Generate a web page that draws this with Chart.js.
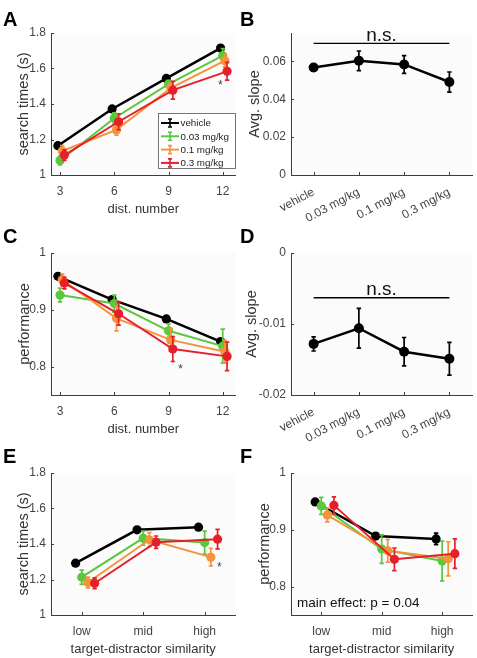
<!DOCTYPE html>
<html><head><meta charset="utf-8">
<script src="https://cdn.jsdelivr.net/npm/chart.js@4.4.0/dist/chart.umd.min.js"></script>
<style>
html,body{margin:0;padding:0;background:#fff;overflow:hidden;width:477px;height:658px;}
.p{position:absolute;}
canvas{display:block;}
</style></head><body>
<div class="p" style="left:0;top:0"><canvas id="cA" width="240" height="220"></canvas></div>
<div class="p" style="left:240px;top:0"><canvas id="cB" width="237" height="228"></canvas></div>
<div class="p" style="left:0;top:220px"><canvas id="cC" width="240" height="220"></canvas></div>
<div class="p" style="left:240px;top:220px"><canvas id="cD" width="237" height="228"></canvas></div>
<div class="p" style="left:0;top:440px"><canvas id="cE" width="240" height="218"></canvas></div>
<div class="p" style="left:240px;top:440px"><canvas id="cF" width="237" height="218"></canvas></div>
<script>
// ---------- data ----------
const distNumbers = [3, 6, 9, 12];
const doseLabels = ['vehicle', '0.03 mg/kg', '0.1 mg/kg', '0.3 mg/kg'];
const similarityLabels = ['low', 'mid', 'high'];

// A: search times vs distractor number
const rtVehicle = [1.165, 1.372, 1.544, 1.715];
const rt003 = [1.082, 1.320, 1.512, 1.672];
const rt01 = [1.135, 1.254, 1.490, 1.644];
const rt03 = [1.112, 1.300, 1.478, 1.584];
const rtVehicleErr = [0.010, 0.010, 0.010, 0.015];
const rt003Err = [0.025, 0.030, 0.020, 0.040];
const rt01Err = [0.030, 0.030, 0.030, 0.035];
const rt03Err = [0.030, 0.045, 0.050, 0.050];

// B: average slope of search times
const slopeRT = [0.0568, 0.0603, 0.0584, 0.0491];
const slopeRTErr = [0.0018, 0.0052, 0.0047, 0.0053];

// C: performance vs distractor number
const perfVehicle = [0.959, 0.918, 0.884, 0.844];
const perf003 = [0.926, 0.911, 0.863, 0.836];
const perf01 = [0.953, 0.885, 0.847, 0.826];
const perf03 = [0.947, 0.893, 0.831, 0.818];
const perfVehicleErr = [0.003, 0.004, 0.005, 0.005];
const perf003Err = [0.012, 0.015, 0.012, 0.030];
const perf01Err = [0.010, 0.022, 0.020, 0.020];
const perf03Err = [0.010, 0.020, 0.022, 0.025];

// D: average slope of performance
const slopePerf = [-0.0128, -0.0106, -0.0139, -0.0149];
const slopePerfErr = [0.0010, 0.0028, 0.0020, 0.0023];

// E: search times vs target-distractor similarity
const simRTVehicle = [1.292, 1.480, 1.495];
const simRT003 = [1.213, 1.433, 1.408];
const simRT01 = [1.183, 1.424, 1.326];
const simRT03 = [1.179, 1.410, 1.427];
const simRTVehicleErr = [0.010, 0.010, 0.012];
const simRT003Err = [0.040, 0.040, 0.065];
const simRT01Err = [0.030, 0.040, 0.050];
const simRT03Err = [0.030, 0.035, 0.055];

// F: performance vs target-distractor similarity
const simPerfVehicle = [0.949, 0.889, 0.884];
const simPerf003 = [0.942, 0.866, 0.845];
const simPerf01 = [0.926, 0.863, 0.849];
const simPerf03 = [0.943, 0.848, 0.858];
const simPerfVehicleErr = [0.004, 0.005, 0.010];
const simPerf003Err = [0.015, 0.025, 0.035];
const simPerf01Err = [0.012, 0.020, 0.030];
const simPerf03Err = [0.015, 0.020, 0.026];

// tick values
const rtTicks = [1, 1.2, 1.4, 1.6, 1.8];
const perfTicks = [0.8, 0.9, 1];
const slopeRTTicks = [0, 0.02, 0.04, 0.06];
const slopePerfTicks = [-0.02, -0.01, 0];

// ---------- style ----------
const FONT = "'Liberation Sans', Arial, Helvetica, sans-serif";
const COLORS = ['#000000', '#5ac83c', '#f6923c', '#e5202a'];
const AXIS = '#3c3c3c';
const TXT = '#444444';
const distOffsets = [-0.12, 0, 0.12, 0.24];
const simOffsets = [-0.1, 0, 0.1, 0.21];
const dosePositions = doseLabels.map((_, i) => i + 1);
const simPositions = similarityLabels.map((_, i) => i + 1);

function series(label, xs, ys, errs, color, offset, order, lw, r) {
  return {
    label, data: xs.map((x, i) => ({x: x + offset, y: ys[i]})), errors: errs,
    borderColor: color, backgroundColor: color, pointBackgroundColor: color,
    pointBorderColor: color, pointRadius: r, pointBorderWidth: 0,
    borderWidth: lw, order, tension: 0, pointHoverRadius: r
  };
}
function fourSeries(xs, arrs, errs, offs) {
  return arrs.map((a, k) => series(doseLabels[k], xs, a, errs[k], COLORS[k], offs[k], 4 - k, k === 0 ? 2.5 : 2, 4.6));
}

const panelPlugin = {
  id: 'panel',
  beforeDraw(chart) {
    const {ctx, chartArea: a} = chart;
    ctx.save();
    ctx.fillStyle = '#fbfbfb';
    ctx.fillRect(a.left, a.top, a.right - a.left, a.bottom - a.top);
    ctx.restore();
  },
  beforeDatasetDraw(chart, args) {
    const ds = chart.data.datasets[args.index];
    if (!ds.errors) return;
    const xs = chart.scales.x, ys = chart.scales.y, ctx = chart.ctx;
    ctx.save();
    ctx.strokeStyle = ds.borderColor;
    ctx.lineWidth = 1.7;
    ds.data.forEach((p, i) => {
      const e = ds.errors[i];
      const px = xs.getPixelForValue(p.x);
      const y1 = ys.getPixelForValue(p.y - e), y2 = ys.getPixelForValue(p.y + e);
      const c = 2.2;
      ctx.beginPath();
      ctx.moveTo(px, y1); ctx.lineTo(px, y2);
      ctx.moveTo(px - c, y1); ctx.lineTo(px + c, y1);
      ctx.moveTo(px - c, y2); ctx.lineTo(px + c, y2);
      ctx.stroke();
    });
    ctx.restore();
  },
  afterDraw(chart, args, o) {
    const {ctx, chartArea: a} = chart;
    const xs = chart.scales.x, ys = chart.scales.y;
    ctx.save();
    // inward tick marks
    ctx.strokeStyle = AXIS; ctx.lineWidth = 1;
    ctx.beginPath();
    xs.ticks.forEach(t => { const px = Math.round(xs.getPixelForValue(t.value)) + 0.5; ctx.moveTo(px, a.bottom); ctx.lineTo(px, a.bottom - 3); });
    ys.ticks.forEach(t => { const py = Math.round(ys.getPixelForValue(t.value)) + 0.5; ctx.moveTo(a.left, py); ctx.lineTo(a.left + 3, py); });
    ctx.stroke();
    // panel letter
    if (o.letter) {
      ctx.fillStyle = '#000';
      ctx.font = 'bold 20px ' + FONT;
      ctx.textAlign = 'left'; ctx.textBaseline = 'alphabetic';
      ctx.fillText(o.letter, o.letterX, o.letterY);
    }
    // significance lines
    (o.lines || []).forEach(l => {
      const y = ys.getPixelForValue(l.y);
      ctx.strokeStyle = '#000'; ctx.lineWidth = 1.3;
      ctx.beginPath(); ctx.moveTo(xs.getPixelForValue(l.x1), y); ctx.lineTo(xs.getPixelForValue(l.x2), y); ctx.stroke();
    });
    // texts in data coordinates
    (o.texts || []).forEach(t => {
      ctx.fillStyle = t.color || '#222';
      ctx.font = t.font;
      ctx.textAlign = t.align || 'center';
      ctx.textBaseline = t.baseline || 'middle';
      ctx.fillText(t.text, xs.getPixelForValue(t.x), ys.getPixelForValue(t.y) + (t.dy || 0));
    });
    // texts in chart-area-relative pixels
    (o.areaTexts || []).forEach(t => {
      ctx.fillStyle = t.color || '#222';
      ctx.font = t.font;
      ctx.textAlign = 'left'; ctx.textBaseline = 'middle';
      ctx.fillText(t.text, a.left + t.dx, a.bottom + t.dy);
    });
    // legend
    if (o.legend) {
      const L = o.legend;
      ctx.fillStyle = '#fff';
      ctx.fillRect(L.left, L.top, L.w, L.h);
      ctx.strokeStyle = '#555'; ctx.lineWidth = 0.8;
      ctx.strokeRect(L.left + 0.5, L.top + 0.5, L.w, L.h);
      chart.data.datasets.forEach((ds, i) => {
        const y = L.top + 10 + i * 13.3;
        const x0 = L.left + 3, x1 = L.left + 21, xc = (x0 + x1) / 2;
        ctx.strokeStyle = ds.borderColor; ctx.lineWidth = 2;
        ctx.beginPath(); ctx.moveTo(x0, y); ctx.lineTo(x1, y); ctx.stroke();
        ctx.lineWidth = 1.6;
        ctx.beginPath();
        ctx.moveTo(xc, y - 4); ctx.lineTo(xc, y + 4);
        ctx.moveTo(xc - 2, y - 4); ctx.lineTo(xc + 2, y - 4);
        ctx.moveTo(xc - 2, y + 4); ctx.lineTo(xc + 2, y + 4);
        ctx.stroke();
        ctx.fillStyle = '#222'; ctx.font = '9.8px ' + FONT;
        ctx.textAlign = 'left'; ctx.textBaseline = 'middle';
        ctx.fillText(ds.label, L.left + 22.5, y + 0.5);
      });
    }
    ctx.restore();
  }
};

function makeChart(id, cfg) {
  const H = cfg.H;
  const xScale = {
    type: 'linear', min: cfg.xmin, max: cfg.xmax,
    afterBuildTicks: s => { s.ticks = cfg.xticks.map(v => ({value: v})); },
    afterFit: s => { s.height = H - 175; s.paddingLeft = 0; s.paddingRight = 0; },
    grid: {display: false, drawTicks: false},
    border: {display: true, color: AXIS, width: 1},
    ticks: {
      autoSkip: false, padding: cfg.xpad, color: TXT,
      font: {family: FONT, size: 12},
      minRotation: cfg.rot || 0, maxRotation: cfg.rot || 0,
      callback: cfg.xlabel
    },
    title: cfg.xtitle ? {display: true, text: cfg.xtitle, color: '#333', font: {family: FONT, size: 13}, padding: {top: 0, bottom: cfg.xtitlePad}} : {display: false}
  };
  const yScale = {
    type: 'linear', min: cfg.ymin, max: cfg.ymax,
    afterBuildTicks: s => { s.ticks = cfg.yticks.map(v => ({value: v})); },
    afterFit: s => { s.width = 51; s.paddingTop = 0; s.paddingBottom = 0; },
    grid: {display: false, drawTicks: false},
    border: {display: true, color: AXIS, width: 1},
    ticks: {padding: 5, color: TXT, font: {family: FONT, size: 12}, callback: v => String(+(+v).toFixed(4))},
    title: {display: true, text: cfg.ytitle, color: '#333', font: {family: FONT, size: 14.5}, padding: {top: cfg.ytitlePad, bottom: 0}}
  };
  return new Chart(document.getElementById(id), {
    type: 'line',
    data: {datasets: cfg.datasets},
    options: {
      responsive: false, animation: false, devicePixelRatio: 1,
      layout: {padding: {top: 33, right: 4, left: 0, bottom: 0}},
      plugins: {legend: {display: false}, tooltip: {enabled: false}, panel: cfg.panel},
      scales: {x: xScale, y: yScale}
    },
    plugins: [panelPlugin]
  });
}

const smallFont = '12px ' + FONT;

// A
makeChart('cA', {
  H: 220, xmin: 2.5, xmax: 12.7, xticks: distNumbers, xpad: 9.5, xlabel: v => String(v),
  xtitle: 'dist. number', xtitlePad: 3,
  ymin: 1, ymax: 1.8, yticks: rtTicks, ytitle: 'search times (s)', ytitlePad: 15,
  datasets: fourSeries(distNumbers, [rtVehicle, rt003, rt01, rt03], [rtVehicleErr, rt003Err, rt01Err, rt03Err], distOffsets),
  panel: {letter: 'A', letterX: 3, letterY: 26,
    texts: [{x: 11.86, y: 1.522, text: '*', font: smallFont, dy: 3, color: '#444'}],
    legend: {left: 158, top: 113, w: 77, h: 55}}
});

// B
makeChart('cB', {
  H: 228, xmin: 0.5, xmax: 4.5, xticks: dosePositions, xpad: 10, rot: 28, xlabel: v => doseLabels[v - 1],
  ymin: 0, ymax: 0.075, yticks: slopeRTTicks, ytitle: 'Avg. slope', ytitlePad: 6,
  datasets: [series('slope', dosePositions, slopeRT, slopeRTErr, '#000', 0, 1, 2.5, 5)],
  panel: {letter: 'B', letterX: 0, letterY: 26,
    lines: [{x1: 1, x2: 4, y: 0.0695}],
    texts: [{x: 2.5, y: 0.0695, text: 'n.s.', font: '19px ' + FONT, baseline: 'alphabetic', dy: -2.5, color: '#111'}]}
});

// C
makeChart('cC', {
  H: 220, xmin: 2.5, xmax: 12.7, xticks: distNumbers, xpad: 9.5, xlabel: v => String(v),
  xtitle: 'dist. number', xtitlePad: 3,
  ymin: 0.75, ymax: 1, yticks: perfTicks, ytitle: 'performance', ytitlePad: 16,
  datasets: fourSeries(distNumbers, [perfVehicle, perf003, perf01, perf03], [perfVehicleErr, perf003Err, perf01Err, perf03Err], distOffsets),
  panel: {letter: 'C', letterX: 3, letterY: 22.5,
    texts: [{x: 9.67, y: 0.80, text: '*', font: smallFont, dy: 3, color: '#444'}]}
});

// D
makeChart('cD', {
  H: 228, xmin: 0.5, xmax: 4.5, xticks: dosePositions, xpad: 10, rot: 28, xlabel: v => doseLabels[v - 1],
  ymin: -0.02, ymax: 0, yticks: slopePerfTicks, ytitle: 'Avg. slope', ytitlePad: 3,
  datasets: [series('slope', dosePositions, slopePerf, slopePerfErr, '#000', 0, 1, 2.5, 5)],
  panel: {letter: 'D', letterX: 0, letterY: 22.5,
    lines: [{x1: 1, x2: 4, y: -0.0063}],
    texts: [{x: 2.5, y: -0.0063, text: 'n.s.', font: '19px ' + FONT, baseline: 'alphabetic', dy: -3, color: '#111'}]}
});

// E
makeChart('cE', {
  H: 218, xmin: 0.5, xmax: 3.5, xticks: simPositions, xpad: 9.5, xlabel: v => similarityLabels[v - 1],
  xtitle: 'target-distractor similarity', xtitlePad: 1,
  ymin: 1, ymax: 1.8, yticks: rtTicks, ytitle: 'search times (s)', ytitlePad: 15,
  datasets: fourSeries(simPositions, [simRTVehicle, simRT003, simRT01, simRT03], [simRTVehicleErr, simRT003Err, simRT01Err, simRT03Err], simOffsets),
  panel: {letter: 'E', letterX: 3, letterY: 22.5,
    texts: [{x: 3.24, y: 1.286, text: '*', font: smallFont, dy: 3, color: '#444'}]}
});

// F
makeChart('cF', {
  H: 218, xmin: 0.5, xmax: 3.5, xticks: simPositions, xpad: 9.5, xlabel: v => similarityLabels[v - 1],
  xtitle: 'target-distractor similarity', xtitlePad: 1,
  ymin: 0.75, ymax: 1, yticks: perfTicks, ytitle: 'performance', ytitlePad: 16,
  datasets: fourSeries(simPositions, [simPerfVehicle, simPerf003, simPerf01, simPerf03], [simPerfVehicleErr, simPerf003Err, simPerf01Err, simPerf03Err], simOffsets),
  panel: {letter: 'F', letterX: 0, letterY: 22.5,
    areaTexts: [{text: 'main effect: p = 0.04', font: '13.5px ' + FONT, dx: 6, dy: -12, color: '#111'}]}
});
</script>
</body></html>
